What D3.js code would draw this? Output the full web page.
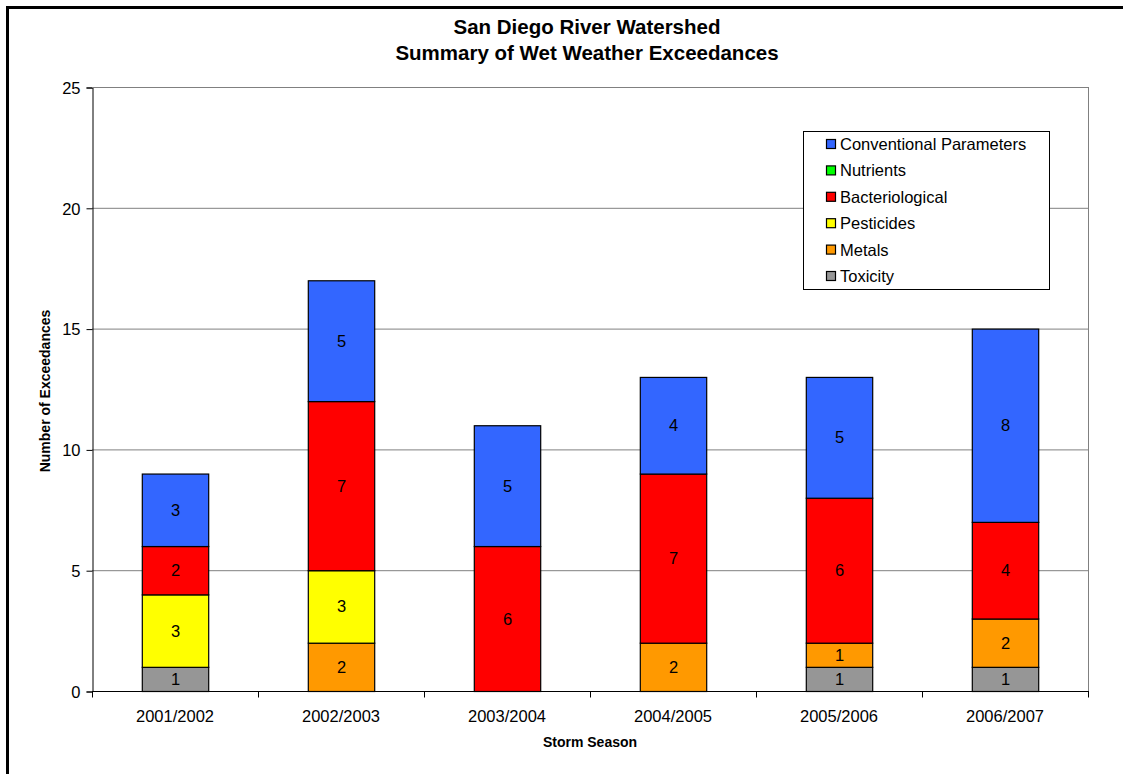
<!DOCTYPE html>
<html>
<head>
<meta charset="utf-8">
<script src="https://cdn.jsdelivr.net/npm/d3@7"></script>
<style>
  html, body { margin: 0; padding: 0; background: #fff; overflow: hidden; }
  svg { display: block; font-family: Arial, "Liberation Sans", sans-serif; }
</style>
</head>
<body>
<svg id="chart" width="1123" height="774"></svg>
<script>
// Storm seasons on the x axis
const seasons = ["2001/2002", "2002/2003", "2003/2004", "2004/2005", "2005/2006", "2006/2007"];

// Exceedance counts per parameter group, one value per season
const toxicity        = [1, 0, 0, 0, 1, 1];
const metals          = [0, 2, 0, 2, 1, 2];
const pesticides      = [3, 3, 0, 0, 0, 0];
const bacteriological = [2, 7, 6, 7, 6, 4];
const nutrients       = [0, 0, 0, 0, 0, 0];
const conventional    = [3, 5, 5, 4, 5, 8];

const yTicks = [0, 5, 10, 15, 20, 25];

// Stack order, bottom to top
const seriesDefs = [
  { key: "Toxicity", values: toxicity, color: "#969696" },
  { key: "Metals", values: metals, color: "#FF9900" },
  { key: "Pesticides", values: pesticides, color: "#FFFF00" },
  { key: "Bacteriological", values: bacteriological, color: "#FF0000" },
  { key: "Nutrients", values: nutrients, color: "#00FF00" },
  { key: "Conventional Parameters", values: conventional, color: "#3366FF" }
];

const rows = seasons.map((s, i) => {
  const r = { season: s };
  seriesDefs.forEach(d => { r[d.key] = d.values[i]; });
  return r;
});

const FS = 16.5;
const svg = d3.select("#chart");

// outer frame (runs past the right and bottom edges)
svg.append("rect")
  .attr("x", 7.5).attr("y", 7.5)
  .attr("width", 1200).attr("height", 850)
  .attr("fill", "none").attr("stroke", "#000").attr("stroke-width", 3);

const plot = { left: 92, top: 87, right: 1088, bottom: 691 };

const x = d3.scaleBand()
  .domain(seasons)
  .range([plot.left, plot.right])
  .paddingInner(0).paddingOuter(0);

const y = d3.scaleLinear().domain([0, 25]).range([plot.bottom, plot.top]);

const barW = x.bandwidth() * 0.4;

// gridlines
svg.append("g").selectAll("line")
  .data(yTicks.filter(t => t > 0))
  .join("line")
  .attr("x1", plot.left).attr("x2", plot.right)
  .attr("y1", d => y(d) + 0.5).attr("y2", d => y(d) + 0.5)
  .attr("stroke", "#808080").attr("stroke-width", 1);

// right edge of plot area
svg.append("line")
  .attr("x1", plot.right + 0.5).attr("x2", plot.right + 0.5)
  .attr("y1", plot.top).attr("y2", plot.bottom)
  .attr("stroke", "#808080").attr("stroke-width", 1);

// stacked bars
const stack = d3.stack().keys(seriesDefs.map(d => d.key));
const stacked = stack(rows);
const colorOf = Object.fromEntries(seriesDefs.map(d => [d.key, d.color]));

const layers = svg.append("g").selectAll("g")
  .data(stacked)
  .join("g")
  .attr("fill", d => colorOf[d.key]);

layers.selectAll("rect")
  .data(d => d.filter(p => p[1] - p[0] > 0))
  .join("rect")
  .attr("x", p => x(p.data.season) + (x.bandwidth() - barW) / 2 + 0.5)
  .attr("y", p => y(p[1]) + 0.5)
  .attr("width", barW)
  .attr("height", p => y(p[0]) - y(p[1]))
  .attr("stroke", "#000").attr("stroke-width", 1.2);

// value labels inside segments
layers.selectAll("text")
  .data(d => d.filter(p => p[1] - p[0] > 0))
  .join("text")
  .attr("x", p => x(p.data.season) + x.bandwidth() / 2 + 0.5)
  .attr("y", p => y((p[0] + p[1]) / 2) + 6)
  .attr("text-anchor", "middle")
  .attr("font-size", FS)
  .attr("fill", "#000")
  .text(p => p[1] - p[0]);

// y axis
const yAxis = d3.axisLeft(y).tickValues(yTicks).tickSize(6).tickPadding(6);
const yg = svg.append("g")
  .attr("transform", `translate(${plot.left + 0.5},0.5)`)
  .call(yAxis);
yg.selectAll("text").attr("font-size", FS).attr("font-family", "Arial, 'Liberation Sans', sans-serif").attr("fill", "#000").attr("dy", "0.35em");
yg.select(".domain").attr("stroke", "#000");
yg.selectAll(".tick line").attr("stroke", "#000");

// top edge of plot area
svg.append("line")
  .attr("x1", plot.left).attr("x2", plot.right + 1)
  .attr("y1", plot.top + 0.5).attr("y2", plot.top + 0.5)
  .attr("stroke", "#808080").attr("stroke-width", 1);

// x axis with ticks at category boundaries
const xg = svg.append("g").attr("transform", `translate(0,${plot.bottom + 0.5})`);
xg.append("line")
  .attr("x1", plot.left).attr("x2", plot.right + 1)
  .attr("stroke", "#000");
const boundaries = seasons.map(s => x(s)).concat([plot.right]);
xg.selectAll("line.tk")
  .data(boundaries)
  .join("line")
  .attr("class", "tk")
  .attr("x1", d => d + 0.5).attr("x2", d => d + 0.5)
  .attr("y1", 0).attr("y2", 6)
  .attr("stroke", "#000");
xg.selectAll("text")
  .data(seasons)
  .join("text")
  .attr("x", d => x(d) + x.bandwidth() / 2)
  .attr("y", 30)
  .attr("text-anchor", "middle")
  .attr("font-size", FS)
  .text(d => d);

// titles
const title = svg.append("text")
  .attr("text-anchor", "middle")
  .attr("font-weight", "bold")
  .attr("font-size", 20.5);
title.append("tspan").attr("x", 587).attr("y", 34).text("San Diego River Watershed");
title.append("tspan").attr("x", 587).attr("y", 60).text("Summary of Wet Weather Exceedances");

svg.append("text")
  .attr("x", 590).attr("y", 747)
  .attr("text-anchor", "middle")
  .attr("font-weight", "bold").attr("font-size", 14)
  .text("Storm Season");

svg.append("text")
  .attr("transform", "translate(49.5,391) rotate(-90)")
  .attr("text-anchor", "middle")
  .attr("font-weight", "bold").attr("font-size", 14)
  .text("Number of Exceedances");

// legend, listed top stack first
const legend = svg.append("g");
legend.append("rect")
  .attr("x", 803.5).attr("y", 131.5)
  .attr("width", 246).attr("height", 158)
  .attr("fill", "#fff").attr("stroke", "#000").attr("stroke-width", 1);

const legendItems = seriesDefs.slice().reverse();
const li = legend.selectAll("g.item")
  .data(legendItems)
  .join("g")
  .attr("class", "item")
  .attr("transform", (d, i) => `translate(826,${144 + i * 26.4})`);
li.append("rect")
  .attr("x", 0.5).attr("y", -4.5)
  .attr("width", 9).attr("height", 9)
  .attr("fill", d => d.color)
  .attr("stroke", "#000").attr("stroke-width", 1.2);
li.append("text")
  .attr("x", 14).attr("y", 6)
  .attr("font-size", FS)
  .text(d => d.key);
</script>
</body>
</html>
